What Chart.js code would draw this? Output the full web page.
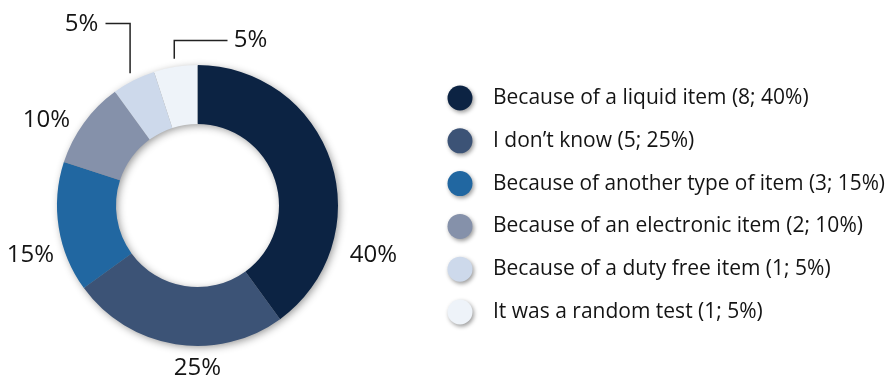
<!DOCTYPE html>
<html>
<head>
<meta charset="utf-8">
<script src="https://cdn.jsdelivr.net/npm/chart.js@4/dist/chart.umd.min.js"></script>
<style>
  html, body { margin: 0; padding: 0; background: #fff; }
  #wrap { width: 896px; height: 380px; }
</style>
</head>
<body>
<div id="wrap"><canvas id="grafico" width="896" height="380"></canvas></div>
<script>
const categorias = [
  "Because of a liquid item",
  "I don’t know",
  "Because of another type of item",
  "Because of an electronic item",
  "Because of a duty free item",
  "It was a random test"
];
const contagens = [8, 5, 3, 2, 1, 1];
const percentagens = [40, 25, 15, 10, 5, 5];
const cores = ["#0c2343", "#3c5376", "#2167a1", "#8591aa", "#cdd9eb", "#eef3f9"];

const FONTE = "'Open Sans', sans-serif";
const COR_TEXTO = "#141414";

// onde fica cada etiqueta de percentagem, relativo ao centro do anel
const etiquetas = [
  { dx: 176, dy: 50 },
  { dx: 0, dy: 163 },
  { dx: -167, dy: 50 },
  { dx: -151, dy: -85 },
  { dx: -116, dy: -181, guia: { y: -182, xFim: -92 } },
  { dx: 53, dy: -165, guia: { y: -165, xFim: 30 } }
];

// sombra suave por baixo do anel
const sombraAnel = {
  id: "sombraAnel",
  beforeDatasetsDraw(chart) {
    const arco = chart.getDatasetMeta(0).data[0];
    if (!arco) return;
    const { x, y, outerRadius, innerRadius } = arco;
    const ctx = chart.ctx;
    ctx.save();
    ctx.shadowColor = "rgba(0,0,0,0.45)";
    ctx.shadowBlur = 9;
    ctx.shadowOffsetX = 2;
    ctx.shadowOffsetY = 2;
    ctx.fillStyle = "#8a8a8a";
    ctx.beginPath();
    ctx.arc(x, y, outerRadius - 1, 0, Math.PI * 2);
    ctx.arc(x, y, innerRadius + 1, Math.PI * 2, 0, true);
    ctx.closePath();
    ctx.fill();
    ctx.restore();
  }
};

// percentagens à volta do anel e linhas guia
const etiquetasAnel = {
  id: "etiquetasAnel",
  afterDatasetsDraw(chart) {
    const meta = chart.getDatasetMeta(0);
    const ctx = chart.ctx;
    ctx.save();
    ctx.font = `24px ${FONTE}`;
    ctx.fillStyle = COR_TEXTO;
    ctx.textAlign = "center";
    ctx.textBaseline = "middle";
    meta.data.forEach((arco, i) => {
      const pos = etiquetas[i];
      const cx = arco.x, cy = arco.y;
      ctx.fillText(`${percentagens[i]}%`, cx + pos.dx, cy + pos.dy);
      if (pos.guia) {
        const meio = (arco.startAngle + arco.endAngle) / 2;
        const r = arco.outerRadius + 8;
        const px = cx + Math.cos(meio) * r;
        const py = cy + Math.sin(meio) * r;
        ctx.strokeStyle = "#222";
        ctx.lineWidth = 1.5;
        ctx.beginPath();
        ctx.moveTo(px, py);
        ctx.lineTo(px, cy + pos.guia.y);
        ctx.lineTo(cx + pos.guia.xFim, cy + pos.guia.y);
        ctx.stroke();
      }
    });
    ctx.restore();
  }
};

// legenda desenhada à direita
const legendaLateral = {
  id: "legendaLateral",
  afterDraw(chart) {
    const ctx = chart.ctx;
    const x0 = 460, y0 = 98, passo = 42.8, raio = 12.5;
    ctx.save();
    categorias.forEach((nome, i) => {
      const y = y0 + i * passo;
      ctx.save();
      ctx.shadowColor = "rgba(0,0,0,0.4)";
      ctx.shadowBlur = 4;
      ctx.shadowOffsetX = 1.5;
      ctx.shadowOffsetY = 2;
      ctx.fillStyle = cores[i];
      ctx.beginPath();
      ctx.arc(x0, y, raio, 0, Math.PI * 2);
      ctx.fill();
      ctx.restore();

      ctx.font = `21px ${FONTE}`;
      ctx.fillStyle = COR_TEXTO;
      ctx.textAlign = "left";
      ctx.textBaseline = "middle";
      ctx.fillText(`${nome} (${contagens[i]}; ${percentagens[i]}%)`, 493, y, 392);
    });
    ctx.restore();
  }
};

new Chart(document.getElementById("grafico"), {
  type: "doughnut",
  data: {
    labels: categorias,
    datasets: [{
      data: contagens,
      backgroundColor: cores,
      borderWidth: 0
    }]
  },
  options: {
    responsive: false,
    animation: false,
    cutout: "58%",
    layout: { padding: { left: 57, top: 65, right: 558, bottom: 34 } },
    plugins: {
      legend: { display: false },
      tooltip: { enabled: false }
    }
  },
  plugins: [sombraAnel, etiquetasAnel, legendaLateral]
});
</script>
</body>
</html>
